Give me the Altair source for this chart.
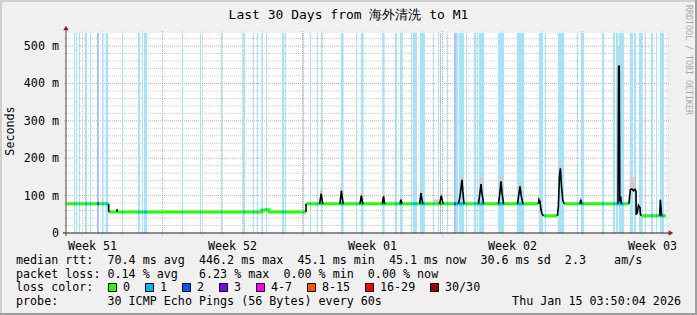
import altair as alt
import pandas as pd

MONO = "DejaVu Sans Mono"

# ---------------- texts ----------------
title_text = "Last 30 Days from 海外清洗 to M1"
y_title = "Seconds"
watermark = "RRDTOOL / TOBI OETIKER"
legend_line1 = "median rtt:  70.4 ms avg  446.2 ms max  45.1 ms min  45.1 ms now  30.6 ms sd  2.3    am/s"
legend_line2 = "packet loss: 0.14 % avg   6.23 % max  0.00 % min  0.00 % now"
legend_line3 = "loss color:"
legend_line4 = "probe:       30 ICMP Echo Pings (56 Bytes) every 60s"
date_text = "Thu Jan 15 03:50:04 2026"

loss_color_labels = ["0", "1", "2", "3", "4-7", "8-15", "16-29", "30/30"]
loss_color_values = ["#26ff00", "#00b8ff", "#0059ff", "#7e00ff", "#ff00ff", "#ff5500", "#ff0000", "#a10000"]

# ---------------- axis values ----------------
week_labels = ["Week 51", "Week 52", "Week 01", "Week 02", "Week 03"]
week_label_day = [1.325, 8.325, 15.325, 22.325, 29.325]
week_grid_day = [4.825, 11.825, 18.825, 25.825]
first_midnight_day = 0.825
y_tick_ms = [0, 100, 200, 300, 400, 500]
y_tick_labels = ["0", "100 m", "200 m", "300 m", "400 m", "500 m"]

# ---------------- data (x = days since window start, y = ms) ----------------
loss_start = [0.40, 0.50, 0.65, 0.95, 1.20, 1.55, 1.80, 1.98, 2.80, 3.60, 3.80, 3.90,
              5.80, 6.70, 7.75, 8.85, 9.35, 9.55, 9.77, 10.00,
              10.80, 10.95, 11.85, 12.20, 12.55, 12.75, 13.75, 14.50, 14.75,
              15.82, 16.45, 16.70, 17.25, 17.35, 17.70, 18.35, 18.60, 18.70, 19.05,
              19.40, 19.50, 19.65, 20.00, 20.40, 20.55, 20.65, 21.60, 22.55,
              23.65, 23.95, 24.60, 25.55, 25.75, 26.80, 27.35, 27.50, 27.65,
              28.20, 28.40, 28.65, 28.95, 29.25, 29.50, 29.70]
loss_end = [0.45, 0.55, 0.70, 1.05, 1.25, 1.65, 1.88, 2.10, 2.85, 3.70, 3.85, 4.05,
            5.85, 6.75, 7.80, 8.95, 9.40, 9.60, 9.85, 10.05,
            10.90, 11.00, 11.90, 12.25, 12.60, 12.80, 13.88, 14.55, 14.88,
            15.93, 16.55, 16.80, 17.30, 17.55, 17.95, 18.40, 18.65, 18.75, 19.10,
            19.50, 19.60, 19.90, 20.05, 20.50, 20.60, 20.90, 21.90, 22.90,
            23.85, 24.00, 24.90, 25.60, 25.90, 26.90, 27.45, 27.60, 27.90,
            28.35, 28.50, 28.80, 29.00, 29.35, 29.55, 29.90]
loss_level = [1, 1, 1, 1, 1, 2, 1, 1, 1, 1, 1, 1,
              1, 1, 1, 1, 1, 1, 1, 1,
              1, 1, 1, 1, 1, 1, 1, 1, 1,
              1, 1, 1, 1, 1, 1, 1, 1, 2, 1,
              2, 1, 1, 1, 1, 1, 1, 1, 1,
              1, 1, 1, 1, 1, 1, 1, 1, 1,
              1, 1, 1, 1, 1, 1, 1]

# median rtt (loss 0 parts), step segments
med_seg = [1, 1, 2, 2, 2, 2, 2, 3, 3, 4, 4, 5, 5, 6, 6]
med_day = [0.0, 2.135, 2.135, 9.78, 9.95, 10.15, 12.0, 12.0, 23.62, 23.87, 24.57, 24.90, 28.15, 28.75, 30.0]
med_ms = [78, 78, 56, 61, 62, 56, 56, 78, 78, 46, 46, 78, 78, 46, 46]

# dense smoke / excursions (dark)
dark_id = [1, 1, 2, 2, 3, 3,
           4, 4, 4, 4, 4, 5, 5, 5, 5, 5, 6, 6, 6, 6, 6, 7, 7, 7, 7, 7, 8, 8, 8, 8,
           9, 9, 9, 9, 9, 10, 10, 10, 10, 10, 11, 11, 11, 11, 11, 11,
           12, 12, 12, 12, 12, 13, 13, 13, 13, 13, 14, 14, 14, 14, 14,
           15, 15, 15, 15, 15, 15, 16, 16, 16, 16, 16, 16, 16, 17, 17, 17,
           18, 18, 18, 18, 18, 18,
           19, 19, 19, 19, 19, 19, 19, 19, 19, 19, 19, 19, 19,
           20, 20, 20, 20]
dark_day = [2.135, 2.135, 2.55, 2.55, 12.0, 12.0,
            12.68, 12.73, 12.76, 12.80, 12.84, 13.70, 13.74, 13.77, 13.81, 13.86,
            14.70, 14.74, 14.77, 14.81, 14.85, 15.82, 15.85, 15.88, 15.91, 15.94,
            16.70, 16.74, 16.78, 16.81,
            17.68, 17.72, 17.75, 17.79, 17.84, 18.68, 18.72, 18.76, 18.80, 18.86,
            19.62, 19.70, 19.76, 19.80, 19.84, 19.90,
            20.62, 20.68, 20.75, 20.80, 20.88, 21.62, 21.68, 21.75, 21.80, 21.88,
            22.57, 22.63, 22.70, 22.76, 22.85,
            23.62, 23.65, 23.70, 23.75, 23.80, 23.87,
            24.57, 24.62, 24.67, 24.72, 24.77, 24.84, 24.90,
            25.70, 25.74, 25.78,
            27.60, 27.63, 27.665, 27.69, 27.73, 27.77,
            28.15, 28.18, 28.22, 28.30, 28.38, 28.45, 28.50, 28.51, 28.57, 28.62, 28.70, 28.72, 28.75,
            29.68, 29.72, 29.76, 29.78]
dark_ms = [78, 56, 56, 64, 56, 78,
           78, 96, 105, 90, 78, 78, 100, 113, 95, 78,
           78, 92, 100, 86, 78, 78, 90, 98, 84, 78,
           78, 89, 82, 78,
           78, 95, 107, 92, 78, 78, 88, 100, 90, 78,
           78, 98, 125, 142, 112, 78,
           78, 100, 131, 105, 78, 78, 100, 138, 108, 78,
           78, 98, 125, 100, 78,
           78, 89, 84, 62, 52, 46,
           46, 72, 150, 173, 128, 88, 78,
           78, 89, 78,
           78, 446, 446, 84, 98, 78,
           78, 96, 116, 118, 113, 117, 112, 49, 55, 74, 68, 50, 46,
           46, 89, 62, 46]

# light smoke
smoke_start = [12.70, 13.72, 14.72, 15.84, 16.71, 17.70, 18.70, 19.72, 20.68, 21.68, 22.62,
               23.60, 24.65, 25.70, 26.80, 27.61, 27.68, 28.18, 29.68, 15.77, 18.35, 19.55]
smoke_end = [12.82, 13.84, 14.83, 15.92, 16.79, 17.82, 18.83, 19.86, 20.83, 21.83, 22.78,
             23.70, 24.80, 25.78, 26.86, 27.67, 27.78, 28.50, 29.76, 15.84, 18.66, 19.66]
smoke_lo = [95, 100, 90, 90, 82, 95, 88, 115, 105, 108, 100,
            80, 140, 80, 78, 420, 95, 110, 70, 78, 78, 78]
smoke_hi = [115, 124, 108, 103, 93, 120, 106, 152, 148, 151, 137,
            96, 181, 95, 89, 500, 122, 149, 94, 86, 90, 88]

# ---------------- frames ----------------
band_fill = {1: "#a6e3f8", 2: "#a9c6f7"}
line_col = {1: "#00b8ff", 2: "#0059ff"}

bands = pd.DataFrame({"day": loss_start, "day2": loss_end, "level": loss_level})
bands["fill"] = bands["level"].map(band_fill)

med = pd.DataFrame({"seg": med_seg, "day": med_day, "ms": med_ms})
segs = {}
for s, d, v in zip(med_seg, med_day, med_ms):
    segs.setdefault(s, []).append((d, v))


def base_at(t):
    for pts in segs.values():
        if pts[0][0] <= t <= pts[-1][0]:
            val = pts[0][1]
            for d, v in pts:
                if d <= t:
                    val = v
            return val
    return None


ov = []
for a, b, lv in zip(loss_start, loss_end, loss_level):
    v = base_at((a + b) / 2)
    if v is not None:
        ov.append({"day": a, "day2": b, "ms": v, "c": line_col[lv]})
overlay = pd.DataFrame(ov)

dark = pd.DataFrame({"id": dark_id, "day": dark_day, "ms": dark_ms})
dark["idx"] = range(len(dark))
smoke = pd.DataFrame({"day": smoke_start, "day2": smoke_end, "ms": smoke_lo, "ms2": smoke_hi})

xs = alt.Scale(domain=[0, 30], nice=False, zero=False)
ys = alt.Scale(domain=[0, 535], nice=False, zero=False)


def X(f):
    return alt.X(f, type="quantitative", scale=xs, axis=None)


def Y(f):
    return alt.Y(f, type="quantitative", scale=ys, axis=None)


one = pd.DataFrame({"k": [0]})
NB = "\u00a0"  # keep runs of spaces in SVG text


def rect(x1, x2, y1, y2, color, **kw):
    return alt.Chart(one).mark_rect(color=color, **kw).encode(
        x=alt.value(x1), x2=alt.value(x2), y=alt.value(y1), y2=alt.value(y2))


def txt(s, x, y, size=11.7, align="left", baseline="alphabetic", angle=0, color="#000000"):
    return alt.Chart(one).mark_text(text=s.replace(" ", NB), font=MONO, fontSize=size, align=align,
                                    baseline=baseline, angle=angle, color=color).encode(
        x=alt.value(x), y=alt.value(y))


layers = []
# bevel frame (plot origin is at canvas 66,33)
layers += [rect(-66, 631, -33, -31, "#cfcfcf"), rect(-66, -64, -33, 282, "#cfcfcf"),
           rect(-66, 631, 280, 282, "#9e9e9e"), rect(629, 631, -33, 282, "#9e9e9e")]

# grid
minor_h = [v for v in range(20, 535, 20) if v % 100]
major_h = [100, 200, 300, 400, 500]
minor_v = [first_midnight_day + k for k in range(30) if round(first_midnight_day + k, 3) not in week_grid_day]
layers.append(alt.Chart(pd.DataFrame({"ms": minor_h})).mark_rule(color="#cccccc", strokeDash=[1, 1]).encode(
    y=Y("ms"), x=alt.value(-2), x2=alt.value(603)))
layers.append(alt.Chart(pd.DataFrame({"day": minor_v})).mark_rule(color="#cccccc", strokeDash=[1, 1]).encode(
    x=X("day"), y=alt.value(-2), y2=alt.value(203)))
layers.append(alt.Chart(pd.DataFrame({"ms": major_h})).mark_rule(color="#e79b9b", strokeDash=[1, 1]).encode(
    y=Y("ms"), x=alt.value(-2), x2=alt.value(603)))
layers.append(alt.Chart(pd.DataFrame({"day": week_grid_day})).mark_rule(color="#e79b9b", strokeDash=[1, 1]).encode(
    x=X("day"), y=alt.value(-2), y2=alt.value(203)))

# loss bars
layers.append(alt.Chart(bands).mark_rect().encode(
    x=X("day"), x2=alt.X2("day2"), y=alt.value(0), y2=alt.value(200),
    color=alt.Color("fill:N", scale=None)))

# smoke
layers.append(alt.Chart(smoke).mark_rect(color="#cdcdcd").encode(
    x=X("day"), x2=alt.X2("day2"), y=Y("ms"), y2=alt.Y2("ms2")))

# median
layers.append(alt.Chart(med).mark_line(interpolate="step-after", strokeWidth=3, color="#26ff00", strokeCap="butt").encode(
    x=X("day"), y=Y("ms"), detail="seg:N"))
layers.append(alt.Chart(overlay).mark_rule(strokeWidth=3, strokeCap="butt").encode(
    x=X("day"), x2=alt.X2("day2"), y=Y("ms"), color=alt.Color("c:N", scale=None)))
layers.append(alt.Chart(dark).mark_line(strokeWidth=1.6, color="#000000").encode(
    x=X("day"), y=Y("ms"), detail="id:N", order="idx:Q"))

# axes
layers.append(alt.Chart(one).mark_rule(color="#666666", strokeWidth=1.2).encode(
    x=alt.value(0), y=alt.value(-3), y2=alt.value(203)))
layers.append(alt.Chart(one).mark_rule(color="#1f1f1f", strokeWidth=1).encode(
    x=alt.value(-3), x2=alt.value(604), y=alt.value(200)))
layers.append(alt.Chart(one).mark_point(shape="triangle-up", filled=True, size=30, color="#a01818", opacity=1).encode(
    x=alt.value(0), y=alt.value(-5)))
layers.append(alt.Chart(one).mark_point(shape="triangle-right", filled=True, size=30, color="#a01818", opacity=1).encode(
    x=alt.value(605), y=alt.value(200)))

layers.append(alt.Chart(pd.DataFrame({"day": week_label_day, "label": week_labels})).mark_text(
    font=MONO, fontSize=11.7, align="center", color="#000000").encode(
    x=X("day"), y=alt.value(212.7), text="label:N"))
layers.append(alt.Chart(pd.DataFrame({"ms": y_tick_ms, "label": y_tick_labels})).mark_text(
    font=MONO, fontSize=11.7, align="right", baseline="middle", color="#000000").encode(
    x=alt.value(-7), y=Y("ms"), text="label:N"))

# titles
layers.append(txt(title_text, 282.5, -14.5, size=13, align="center"))
layers.append(txt(y_title, -56, 98, angle=270, align="center", baseline="middle"))
layers.append(txt(watermark, 622, -28, size=8.3, angle=90, baseline="middle", color="#a8a8a8"))

# legend
layers.append(txt(legend_line1, -50, 231))
layers.append(txt(legend_line2, -50, 244.6))
layers.append(txt(legend_line3, -50, 258.2))
layers.append(txt(legend_line4, -50, 271.8))
layers.append(txt(date_text, 615, 271.8, align="right"))

bx = 108 - 66
for lab, col in zip(loss_color_labels, loss_color_values):
    layers.append(rect(bx + 0.5, bx + 8.5, 250.5, 258.5, col, stroke="#000000", strokeWidth=1))
    layers.append(txt(lab, bx + 15, 258.2))
    bx = bx + 15 + 7.0 * len(lab) + 15

chart = alt.layer(*layers).properties(
    width=600, height=200,
    padding={"left": 66, "top": 33, "right": 31, "bottom": 82},
    autosize=alt.AutoSizeParams(type="none"),
).configure(background="#f0f0f0").configure_view(fill="white", strokeWidth=0)

chart.save("out.html", embed_options={"renderer": "svg", "actions": False})
